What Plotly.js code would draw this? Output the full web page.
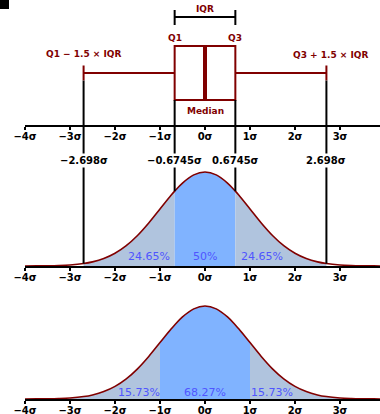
<!DOCTYPE html>
<html><head><meta charset="utf-8">
<script src="https://cdn.plot.ly/plotly-3.0.1.min.js"></script>
<style>html,body{margin:0;padding:0;background:#fff}#chart{width:380px;height:414px}</style>
</head><body><div id="chart"></div>
<script>
// ---- data ----
const SIGMA_TICKS = [-4, -3, -2, -1, 0, 1, 2, 3, 4];
const SIGMA_LABELS = ["\u22124\u03c3", "\u22123\u03c3", "\u22122\u03c3", "\u22121\u03c3", "0\u03c3", "1\u03c3", "2\u03c3", "3\u03c3", "4\u03c3"];
const X = [-4, -3.75, -3.5, -3.25, -3, -2.698, -2.5, -2.25, -2, -1.75, -1.5, -1.25, -1, -0.75, -0.6745, -0.5, -0.25,
           0, 0.25, 0.5, 0.6745, 0.75, 1, 1.25, 1.5, 1.75, 2, 2.25, 2.5, 2.698, 3, 3.25, 3.5, 3.75, 4];
const PDF = [0.0001, 0.0004, 0.0009, 0.0020, 0.0044, 0.0104, 0.0175, 0.0317, 0.0540, 0.0863, 0.1295, 0.1826, 0.2420, 0.3011, 0.3178, 0.3521, 0.3867,
             0.3989, 0.3867, 0.3521, 0.3178, 0.3011, 0.2420, 0.1826, 0.1295, 0.0863, 0.0540, 0.0317, 0.0175, 0.0104, 0.0044, 0.0020, 0.0009, 0.0004, 0.0001];
const Q1 = -0.6745, MEDIAN = 0, Q3 = 0.6745, LOWER_FENCE = -2.698, UPPER_FENCE = 2.698;
const BOX_REGIONS = [[LOWER_FENCE, Q1], [Q1, Q3], [Q3, UPPER_FENCE]];
const BOX_PCTS = ["24.65%", "50%", "24.65%"];
const SD_REGIONS = [[-3, -1], [-1, 1], [1, 3]];
const SD_PCTS = ["15.73%", "68.27%", "15.73%"];
const FENCE_VALUES = [LOWER_FENCE, Q1, Q3, UPPER_FENCE];
const FENCE_LABELS = ["\u22122.698\u03c3", "\u22120.6745\u03c3", "0.6745\u03c3", "2.698\u03c3"];
const BOX_TEXT = ["Q1", "Q3", "IQR", "Median", "Q1 \u2212 1.5 \u00d7 IQR", "Q3 + 1.5 \u00d7 IQR"];

// ---- geometry / style ----
const H = 414, W = 380;
const AX1 = 125;
const AX2 = 266, SC2 = 235.6;          // panel 2 axis pixel row & px per unit
const AX3 = 399, TOP3 = 290, SC3 = 233.1;
const yv = p => (AX2 - p) / SC2;
const XR = [-4, (W - 205) / 45];
const XDOM = [25 / W, 1];
const DARK_RED = '#800000';
const LIGHT = '#b0c4de', DARK = '#80b3ff', PCT_COLOR = '#4f55ff';
const FONT = 'DejaVu Sans';
const pdfAt = v => PDF[X.indexOf(v)];

const BOX_Y = yv(73), BOX_W = 54 / SC2, WHISK = 0.28;

function axisCommon() {
  return {
    range: XR.slice(), domain: XDOM.slice(), showgrid: false, zeroline: false,
    showline: true, linecolor: '#000', linewidth: 1.5,
    ticks: 'outside', ticklen: 3, tickwidth: 1.5, tickcolor: '#000',
    ticklabelstandoff: -2,
    tickvals: SIGMA_TICKS, ticktext: SIGMA_LABELS,
    tickfont: {family: FONT, size: 10, color: '#000', weight: 'bold'},
    fixedrange: true
  };
}

const traces = [];
// empty trace so the top axis subplot exists
traces.push({type: 'scatter', mode: 'lines', x: [], y: [], xaxis: 'x2', yaxis: 'y2', hoverinfo: 'skip'});

function regionTraces(regions, xa, ya) {
  const cols = [LIGHT, DARK, LIGHT];
  regions.forEach((r, i) => {
    const xs = [], ys = [];
    X.forEach((v, k) => { if (v >= r[0] - 1e-9 && v <= r[1] + 1e-9) { xs.push(v); ys.push(PDF[k]); } });
    traces.push({type: 'scatter', mode: 'lines', x: xs, y: ys, fill: 'tozeroy', fillcolor: cols[i],
      line: {width: 0, shape: 'spline', color: cols[i]}, xaxis: xa, yaxis: ya, hoverinfo: 'skip'});
  });
  traces.push({type: 'scatter', mode: 'lines', x: X, y: PDF, line: {color: DARK_RED, width: 1.6, shape: 'spline'},
    xaxis: xa, yaxis: ya, hoverinfo: 'skip'});
}
regionTraces(BOX_REGIONS, 'x', 'y');
regionTraces(SD_REGIONS, 'x3', 'y3');

// connector lines from box plot down to the density
const capBottom = BOX_Y - BOX_W * WHISK / 2, boxBottom = BOX_Y - BOX_W / 2;
const cx = [], cy = [];
FENCE_VALUES.forEach((v, i) => {
  const top = (i === 0 || i === 3) ? capBottom : boxBottom;
  cx.push(v, v, null); cy.push(pdfAt(v), top, null);
});
traces.push({type: 'scatter', mode: 'lines', x: cx, y: cy, line: {color: '#000', width: 2},
  xaxis: 'x', yaxis: 'y', hoverinfo: 'skip'});

// IQR bracket
const bY = yv(17), bT = yv(10), bB = yv(25);
traces.push({type: 'scatter', mode: 'lines',
  x: [Q1, Q1, null, Q1, Q3, null, Q3, Q3], y: [bB, bT, null, bY, bY, null, bB, bT],
  line: {color: '#000', width: 2}, xaxis: 'x', yaxis: 'y', hoverinfo: 'skip'});

// box plot
traces.push({type: 'box', orientation: 'h', y: [BOX_Y], q1: [Q1], median: [MEDIAN], q3: [Q3],
  lowerfence: [LOWER_FENCE], upperfence: [UPPER_FENCE], width: BOX_W, whiskerwidth: WHISK,
  boxpoints: false, fillcolor: 'rgba(255,255,255,0)', line: {color: DARK_RED, width: 2},
  xaxis: 'x', yaxis: 'y', hoverinfo: 'skip'});
traces.push({type: 'scatter', mode: 'lines', x: [MEDIAN, MEDIAN], y: [BOX_Y - BOX_W / 2, BOX_Y + BOX_W / 2],
  line: {color: DARK_RED, width: 4}, xaxis: 'x', yaxis: 'y', hoverinfo: 'skip'});

const ann = [];
const redFont = {family: FONT, size: 9, color: DARK_RED, weight: 'bold'};
ann.push({x: Q1, y: yv(38), text: BOX_TEXT[0], font: redFont});
ann.push({x: Q3, y: yv(38), text: BOX_TEXT[1], font: redFont});
ann.push({x: (Q1 + Q3) / 2, y: yv(9), text: BOX_TEXT[2], font: redFont});
ann.push({x: MEDIAN, y: yv(111), text: BOX_TEXT[3], font: redFont});
ann.push({x: LOWER_FENCE, y: yv(54), text: BOX_TEXT[4], font: redFont});
ann.push({x: UPPER_FENCE + 0.08, y: yv(55), text: BOX_TEXT[5], font: redFont});
FENCE_VALUES.forEach((v, i) => ann.push({x: v, y: yv(160), text: FENCE_LABELS[i], bgcolor: '#fff', borderpad: 1,
  font: {family: FONT, size: 10, color: '#000', weight: 'bold'}}));
const pctFont = {family: FONT, size: 11, color: PCT_COLOR};
[-1.25, 0, 1.27].forEach((x, i) => ann.push({x: x, y: yv(256), text: BOX_PCTS[i], font: pctFont}));
[-1.47, 0, 1.49].forEach((x, i) => ann.push({x: x, y: (AX3 - 392) / SC3, text: SD_PCTS[i], font: pctFont, xref: 'x3', yref: 'y3'}));
ann.forEach(a => { a.showarrow = false; if (!a.xref) { a.xref = 'x'; a.yref = 'y'; } });

const layout = {
  width: W, height: H, margin: {l: 0, r: 0, t: 0, b: 0},
  paper_bgcolor: '#fff', plot_bgcolor: 'rgba(0,0,0,0)', showlegend: false,
  xaxis: Object.assign(axisCommon(), {anchor: 'y'}),
  xaxis2: Object.assign(axisCommon(), {anchor: 'y2'}),
  xaxis3: Object.assign(axisCommon(), {anchor: 'y3'}),
  yaxis: {type: 'linear', domain: [1 - AX2 / H, 1], range: [0, AX2 / SC2], visible: false, fixedrange: true},
  yaxis2: {type: 'linear', domain: [1 - AX1 / H, 1], range: [0, 1], visible: false, fixedrange: true},
  yaxis3: {type: 'linear', domain: [1 - AX3 / H, 1 - TOP3 / H], range: [0, (AX3 - TOP3) / SC3], visible: false, fixedrange: true},
  annotations: ann,
  shapes: [{type: 'rect', xref: 'paper', yref: 'paper', x0: 0, x1: 9 / W, y0: 1 - 9 / H, y1: 1,
    fillcolor: '#000', line: {width: 0}}]
};
Plotly.newPlot('chart', traces, layout, {staticPlot: true, displayModeBar: false});
</script></body></html>
